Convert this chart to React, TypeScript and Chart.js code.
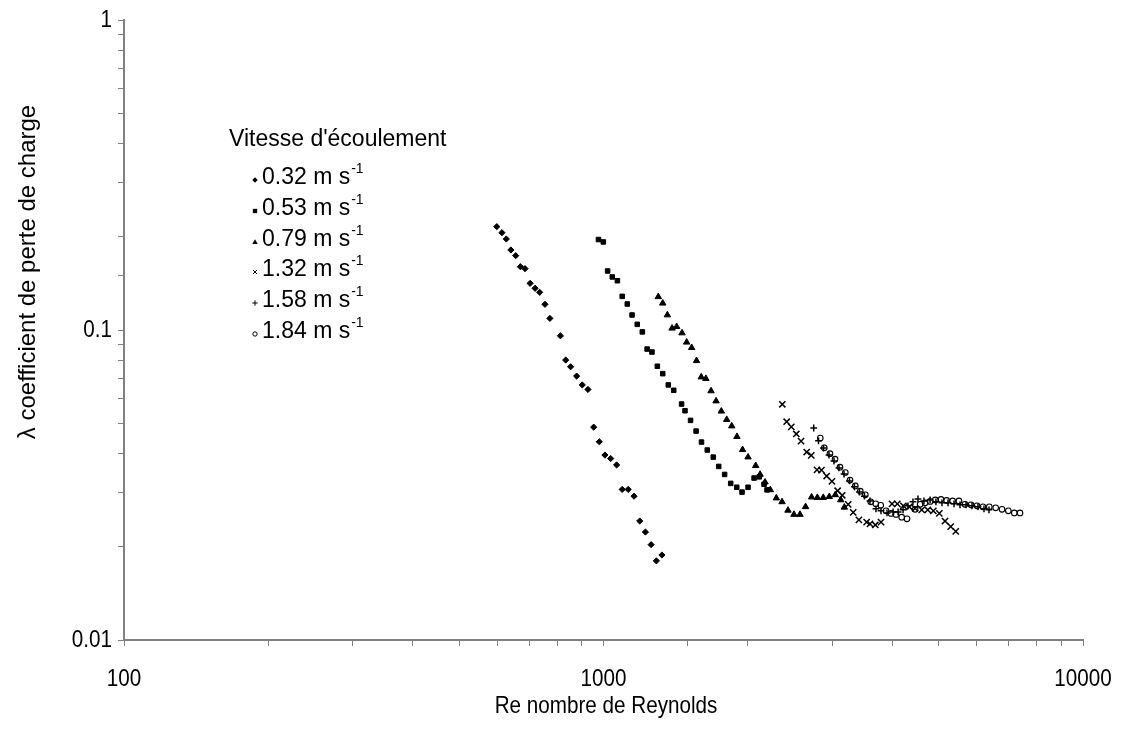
import React, { useEffect, useRef } from "react";
import { Chart, registerables } from "chart.js";

Chart.register(...registerables);

// ---- Data ----
const re032 = [599, 614, 627, 641, 656, 671, 686, 703, 720, 736, 755, 773, 813, 834, 854, 879, 903, 928, 954, 980, 1007, 1035, 1065, 1094, 1126, 1158, 1190, 1223, 1257, 1289, 1324];
const lam032 = [0.2155, 0.206, 0.1966, 0.1812, 0.1737, 0.16, 0.1577, 0.1414, 0.1363, 0.1323, 0.121, 0.109, 0.0958, 0.08, 0.0761, 0.071, 0.0665, 0.0643, 0.0486, 0.0436, 0.0395, 0.0385, 0.0367, 0.0306, 0.0306, 0.0291, 0.0242, 0.0223, 0.0203, 0.018, 0.0188];

const re053 = [976, 999, 1020, 1043, 1069, 1094, 1121, 1147, 1176, 1205, 1233, 1262, 1295, 1329, 1365, 1401, 1455, 1479, 1519, 1560, 1601, 1646, 1694, 1739, 1789, 1842, 1896, 1945, 2002, 2061, 2113, 2162, 2193];
const lam053 = [0.1958, 0.1923, 0.155, 0.1483, 0.1442, 0.1284, 0.1213, 0.1118, 0.1043, 0.0986, 0.0868, 0.0849, 0.0764, 0.0723, 0.0665, 0.0639, 0.0577, 0.0549, 0.0511, 0.0472, 0.0435, 0.041, 0.0389, 0.0363, 0.0342, 0.032, 0.0311, 0.03, 0.0311, 0.0333, 0.0336, 0.0318, 0.0305];

const re079 = [1301, 1329, 1359, 1390, 1421, 1458, 1491, 1527, 1563, 1599, 1635, 1676, 1717, 1761, 1807, 1851, 1898, 1950, 2002, 2077, 2121, 2172, 2228, 2293, 2357, 2425, 2496, 2569, 2639, 2716, 2792, 2873, 2957, 3044, 3124, 3179];
const lam079 = [0.128, 0.122, 0.1118, 0.1013, 0.1025, 0.0978, 0.0913, 0.0877, 0.0796, 0.0705, 0.0697, 0.0636, 0.059, 0.0547, 0.0514, 0.049, 0.0453, 0.0411, 0.0389, 0.0365, 0.0342, 0.0323, 0.0305, 0.0287, 0.0279, 0.0262, 0.0254, 0.0254, 0.0269, 0.0289, 0.0288, 0.0288, 0.029, 0.0294, 0.0283, 0.0268];

const re132 = [2360, 2410, 2464, 2524, 2582, 2653, 2712, 2788, 2848, 2920, 2995, 3078, 3147, 3239, 3317, 3409, 3538, 3595, 3689, 3791, 3997, 4100, 4220, 4343, 4465, 4610, 4745, 4874, 5016, 5155, 5298, 5427];
const lam132 = [0.0576, 0.0506, 0.0487, 0.0462, 0.0438, 0.0404, 0.0394, 0.0354, 0.0353, 0.0338, 0.0325, 0.0303, 0.0293, 0.0274, 0.0258, 0.0244, 0.024, 0.0237, 0.0235, 0.024, 0.0275, 0.0275, 0.0271, 0.0269, 0.0266, 0.0263, 0.0263, 0.0261, 0.0256, 0.0242, 0.0232, 0.0224];

const re158 = [2744, 2808, 2876, 2953, 3025, 3098, 3174, 3258, 3337, 3418, 3501, 3595, 3700, 3791, 3902, 4017, 4115, 4215, 4315, 4419, 4527, 4659, 4799, 4935, 5080, 5230, 5383, 5540, 5702, 5868, 6039, 6216, 6367];
const lam158 = [0.0483, 0.0439, 0.0416, 0.0395, 0.0378, 0.0359, 0.0343, 0.0326, 0.0312, 0.03, 0.0291, 0.0281, 0.0265, 0.0261, 0.0257, 0.0259, 0.0259, 0.0263, 0.0271, 0.0279, 0.0285, 0.0281, 0.0283, 0.0279, 0.0277, 0.0277, 0.0275, 0.0273, 0.0273, 0.0271, 0.0269, 0.0265, 0.0263];

const re184 = [2832, 2887, 2967, 3040, 3113, 3194, 3267, 3351, 3432, 3516, 3608, 3697, 3786, 3884, 3978, 4074, 4187, 4295, 4466, 4575, 4686, 4799, 4920, 5056, 5195, 5347, 5512, 5674, 5840, 6010, 6185, 6377, 6575, 6778, 6987, 7190, 7390];
const lam184 = [0.0448, 0.0417, 0.0399, 0.0383, 0.0361, 0.0347, 0.0328, 0.0314, 0.0302, 0.0294, 0.0279, 0.0275, 0.0272, 0.0261, 0.0256, 0.0254, 0.0249, 0.0246, 0.0264, 0.0274, 0.0277, 0.028, 0.0283, 0.0284, 0.0282, 0.0281, 0.0281, 0.0274, 0.0273, 0.0271, 0.0269, 0.0269, 0.0267, 0.0264, 0.0261, 0.0257, 0.0257];

const seriesLabels = ["0.32 m s", "0.53 m s", "0.79 m s", "1.32 m s", "1.58 m s", "1.84 m s"];
const legendTitle = "Vitesse d'écoulement";
const xTitle = "Re nombre de Reynolds";
const yTitle = "λ coefficient de perte de charge";
const xTickValues = [100, 1000, 10000];
const xTickLabels = ["100", "1000", "10000"];
const yTickValues = [1, 0.1, 0.01];
const yTickLabels = ["1", "0.1", "0.01"];

const FONT = "'Liberation Sans', Arial, Helvetica, sans-serif";
const AXIS_GRAY = "#808080";
const SX = 0.86; // horizontal squeeze of the axis texts

type Style = "diamond" | "square" | "triangle" | "x" | "plus" | "circle";
const styles: Style[] = ["diamond", "square", "triangle", "x", "plus", "circle"];

function zip(xs: number[], ys: number[]) {
  return xs.map((x, i) => ({ x, y: ys[i] }));
}

function drawMarker(ctx: CanvasRenderingContext2D, s: Style, x: number, y: number, r: number) {
  ctx.save();
  ctx.fillStyle = "#000";
  ctx.strokeStyle = "#000";
  ctx.lineWidth = 1;
  ctx.beginPath();
  if (s === "diamond") {
    ctx.moveTo(x, y - r);
    ctx.lineTo(x + r, y);
    ctx.lineTo(x, y + r);
    ctx.lineTo(x - r, y);
    ctx.closePath();
    ctx.fill();
  } else if (s === "square") {
    ctx.rect(x - r * 0.8, y - r * 0.8, r * 1.6, r * 1.6);
    ctx.fill();
  } else if (s === "triangle") {
    ctx.moveTo(x, y - r);
    ctx.lineTo(x + r, y + r * 0.75);
    ctx.lineTo(x - r, y + r * 0.75);
    ctx.closePath();
    ctx.fill();
  } else if (s === "x") {
    const d = r * 0.75;
    ctx.moveTo(x - d, y - d);
    ctx.lineTo(x + d, y + d);
    ctx.moveTo(x + d, y - d);
    ctx.lineTo(x - d, y + d);
    ctx.stroke();
  } else if (s === "plus") {
    ctx.moveTo(x - r, y);
    ctx.lineTo(x + r, y);
    ctx.moveTo(x, y - r);
    ctx.lineTo(x, y + r);
    ctx.stroke();
  } else {
    ctx.arc(x, y, r * 0.8, 0, Math.PI * 2);
    ctx.stroke();
  }
  ctx.restore();
}

function squeezedText(ctx: CanvasRenderingContext2D, text: string, x: number, y: number, align: CanvasTextAlign, sx: number) {
  ctx.save();
  ctx.translate(x, y);
  ctx.scale(sx, 1);
  ctx.textAlign = align;
  ctx.fillText(text, 0, 0);
  ctx.restore();
}

const overlayPlugin = {
  id: "overlay",
  afterDraw(chart: any) {
    const ctx: CanvasRenderingContext2D = chart.ctx;
    const xs = chart.scales.x;
    const ys = chart.scales.y;
    ctx.save();
    ctx.fillStyle = "#000";
    ctx.textBaseline = "middle";

    // tick labels
    ctx.font = `24px ${FONT}`;
    xTickValues.forEach((v, i) => {
      squeezedText(ctx, xTickLabels[i], xs.getPixelForValue(v), 679, "center", SX);
    });
    yTickValues.forEach((v, i) => {
      squeezedText(ctx, yTickLabels[i], 112, ys.getPixelForValue(v), "right", SX);
    });

    // legend
    ctx.font = `23px ${FONT}`;
    ctx.textAlign = "left";
    ctx.fillText(legendTitle, 229, 140);
    const rowY = [178, 209, 240, 270, 301, 332];
    seriesLabels.forEach((lab, i) => {
      const y = rowY[i];
      drawMarker(ctx, styles[i], 255, y + 2, 2.7);
      ctx.font = `23px ${FONT}`;
      ctx.textAlign = "left";
      ctx.fillText(lab, 262, y);
      const w = ctx.measureText(lab).width;
      ctx.font = `14px ${FONT}`;
      ctx.fillText("-1", 262 + w + 1, y - 9);
    });

    // axis titles
    ctx.font = `24px ${FONT}`;
    squeezedText(ctx, xTitle, 606, 706, "center", SX);
    ctx.translate(28, 272);
    ctx.rotate(-Math.PI / 2);
    ctx.textAlign = "center";
    ctx.fillText(yTitle, 0, 0);
    ctx.restore();
  },
};

function pointOpts(s: Style) {
  switch (s) {
    case "diamond":
      return { pointStyle: "rectRot", pointRadius: 3.1, borderWidth: 1, backgroundColor: "#000", borderColor: "#000" };
    case "square":
      return { pointStyle: "rect", pointRadius: 3.2, borderWidth: 1, backgroundColor: "#000", borderColor: "#000" };
    case "triangle":
      return { pointStyle: "triangle", pointRadius: 3.7, borderWidth: 1, backgroundColor: "#000", borderColor: "#000" };
    case "x":
      return { pointStyle: "crossRot", pointRadius: 4.4, borderWidth: 1.5, backgroundColor: "#000", borderColor: "#000" };
    case "plus":
      return { pointStyle: "cross", pointRadius: 3.4, borderWidth: 1.5, backgroundColor: "#000", borderColor: "#000" };
    default:
      return { pointStyle: "circle", pointRadius: 2.8, borderWidth: 1.1, backgroundColor: "rgba(255,255,255,0)", borderColor: "#000" };
  }
}

export default function App() {
  const ref = useRef<HTMLCanvasElement | null>(null);
  useEffect(() => {
    if (!ref.current) return;
    const allData = [
      zip(re032, lam032),
      zip(re053, lam053),
      zip(re079, lam079),
      zip(re132, lam132),
      zip(re158, lam158),
      zip(re184, lam184),
    ];
    const datasets = allData.map((d, i) => ({
      label: seriesLabels[i] + "-1",
      data: d,
      showLine: false,
      pointHoverRadius: 0,
      ...pointOpts(styles[i]),
    }));
    const chart = new Chart(ref.current, {
      type: "scatter",
      data: { datasets } as any,
      options: {
        animation: false,
        responsive: false,
        maintainAspectRatio: false,
        events: [],
        layout: { padding: { left: 0, top: 20, right: 44, bottom: 0 } },
        plugins: { legend: { display: false }, tooltip: { enabled: false } },
        scales: {
          x: {
            type: "logarithmic",
            min: 100,
            max: 10000,
            grid: { display: true, drawOnChartArea: false, drawTicks: true, tickLength: 6, color: AXIS_GRAY, lineWidth: 1 },
            border: { display: true, color: AXIS_GRAY, width: 2 },
            ticks: { autoSkip: false, maxRotation: 0, minRotation: 0, callback: () => "" },
            afterFit: (s: any) => {
              s.height = 100;
            },
          },
          y: {
            type: "logarithmic",
            min: 0.01,
            max: 1,
            grid: { display: true, drawOnChartArea: false, drawTicks: true, tickLength: 6, color: AXIS_GRAY, lineWidth: 1 },
            border: { display: true, color: AXIS_GRAY, width: 2 },
            ticks: { autoSkip: false, callback: () => "" },
            afterFit: (s: any) => {
              s.width = 124;
            },
          },
        },
      } as any,
      plugins: [overlayPlugin],
    });
    return () => chart.destroy();
  }, []);
  return (
    <div style={{ position: "fixed", left: 0, top: 0, width: 1127, height: 740, background: "#fff" }}>
      <canvas ref={ref} width={1127} height={740} style={{ width: 1127, height: 740, display: "block" }} />
    </div>
  );
}
